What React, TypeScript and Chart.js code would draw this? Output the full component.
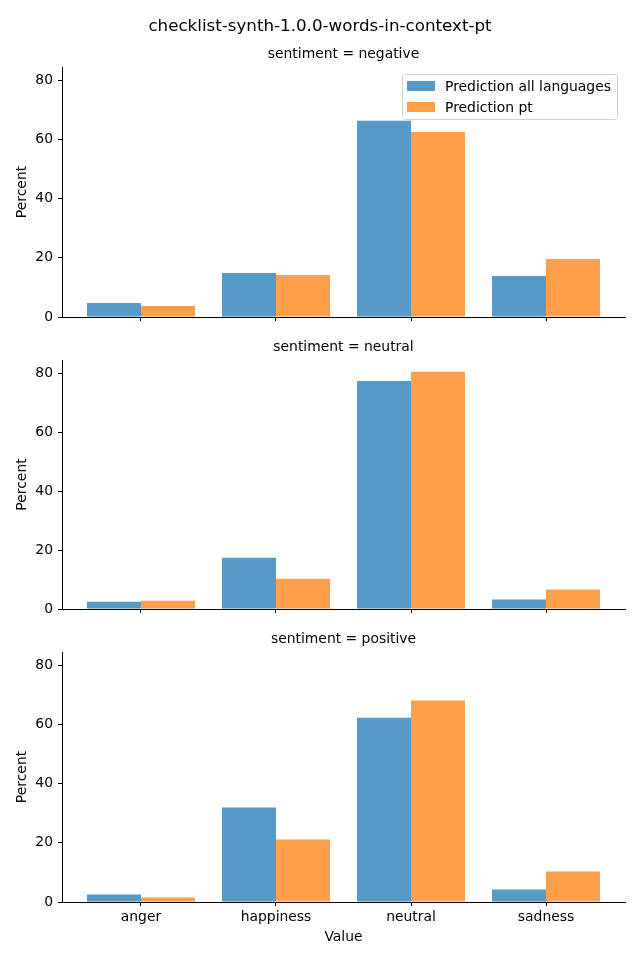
import React, { useEffect, useRef } from "react";
import { Chart, registerables } from "chart.js";

Chart.register(...registerables);

const mainTitle = "checklist-synth-1.0.0-words-in-context-pt";
const categories = ["anger", "happiness", "neutral", "sadness"];
const seriesLabels = ["Prediction all languages", "Prediction pt"];
const panelTitles = ["sentiment = negative", "sentiment = neutral", "sentiment = positive"];
const negativeAll = [4.7, 14.9, 66.3, 13.9];
const negativePt = [3.7, 14.2, 62.5, 19.6];
const neutralAll = [2.5, 17.4, 77.4, 3.2];
const neutralPt = [2.8, 10.3, 80.5, 6.6];
const positiveAll = [2.5, 31.9, 62.3, 4.2];
const positivePt = [1.5, 21.1, 68.1, 10.3];
const yTickValues = [0, 20, 40, 60, 80];
const yLabel = "Percent";
const xLabel = "Value";

const FONT = "'DejaVu Sans', sans-serif";
const BLUE = "rgba(31,119,180,0.75)";
const ORANGE = "rgba(255,127,14,0.75)";

type PanelProps = {
  top: number;
  height: number;
  padTop: number;
  xAxisHeight: number;
  title: string;
  all: number[];
  pt: number[];
  showLabels: boolean;
  showLegend: boolean;
  showMainTitle: boolean;
};

function Panel(p: PanelProps) {
  const ref = useRef<HTMLCanvasElement | null>(null);
  useEffect(() => {
    if (!ref.current) return;
    const textPlugin = {
      id: "texts",
      afterDraw(chart: any) {
        const ctx = chart.ctx;
        const a = chart.chartArea;
        ctx.save();
        ctx.fillStyle = "#000";
        ctx.textAlign = "center";
        ctx.textBaseline = "middle";
        if (p.showMainTitle) {
          ctx.font = `16.7px ${FONT}`;
          ctx.fillText(mainTitle, 320, 27);
        }
        ctx.font = `13.9px ${FONT}`;
        ctx.fillText(p.title, (a.left + a.right) / 2, a.top - 13);
        ctx.save();
        ctx.translate(22, (a.top + a.bottom) / 2);
        ctx.rotate(-Math.PI / 2);
        ctx.fillText(yLabel, 0, 0);
        ctx.restore();
        if (p.showLabels) {
          ctx.fillText(xLabel, (a.left + a.right) / 2, a.bottom + 35);
        }
        if (p.showLegend) {
          const bx = 402.5, by = 74.5, bw = 215, bh = 45, r = 3;
          ctx.beginPath();
          ctx.moveTo(bx + r, by);
          ctx.lineTo(bx + bw - r, by);
          ctx.quadraticCurveTo(bx + bw, by, bx + bw, by + r);
          ctx.lineTo(bx + bw, by + bh - r);
          ctx.quadraticCurveTo(bx + bw, by + bh, bx + bw - r, by + bh);
          ctx.lineTo(bx + r, by + bh);
          ctx.quadraticCurveTo(bx, by + bh, bx, by + bh - r);
          ctx.lineTo(bx, by + r);
          ctx.quadraticCurveTo(bx, by, bx + r, by);
          ctx.closePath();
          ctx.fillStyle = "rgba(255,255,255,0.8)";
          ctx.fill();
          ctx.strokeStyle = "#d0d0d0";
          ctx.lineWidth = 1;
          ctx.stroke();
          const colors = [BLUE, ORANGE];
          seriesLabels.forEach((lab, i) => {
            const y = 81 + i * 21;
            ctx.fillStyle = colors[i];
            ctx.fillRect(407, y, 28, 10);
            ctx.fillStyle = "#000";
            ctx.textAlign = "left";
            ctx.fillText(lab, 445, y + 6);
          });
        }
        ctx.restore();
      },
    };
    const chart = new Chart(ref.current, {
      type: "bar",
      data: {
        datasets: [
          {
            label: seriesLabels[0],
            data: categories.map((_, i) => ({ x: i, y: p.all[i] })),
            backgroundColor: BLUE,
            borderWidth: 0,
          },
          {
            label: seriesLabels[1],
            data: categories.map((_, i) => ({ x: i, y: p.pt[i] })),
            backgroundColor: ORANGE,
            borderWidth: 0,
          },
        ],
      },
      options: {
        animation: false,
        responsive: false,
        devicePixelRatio: 1,
        layout: { padding: { top: p.padTop, right: 15, left: 0, bottom: 0 } },
        datasets: { bar: { categoryPercentage: 0.8, barPercentage: 1 } },
        plugins: {
          legend: { display: false },
          title: { display: false },
          tooltip: { enabled: false },
        },
        scales: {
          x: {
            type: "linear",
            min: -0.585,
            max: 3.585,
            offset: false,
            afterBuildTicks: (s: any) => {
              s.ticks = categories.map((_, i) => ({ value: i }));
            },
            afterFit: (s: any) => {
              s.height = p.xAxisHeight;
              s.paddingLeft = 0;
              s.paddingRight = 0;
            },
            ticks: {
              color: "#000",
              font: { family: FONT, size: 13.9 },
              padding: 3,
              maxRotation: 0,
              autoSkip: false,
              callback: (v: any) => (p.showLabels ? categories[Math.round(Number(v))] : ""),
            },
            grid: {
              display: true,
              offset: false,
              drawOnChartArea: false,
              drawTicks: true,
              tickLength: 4,
              color: "#000",
            },
            border: { display: true, color: "#000", width: 1 },
          },
          y: {
            min: 0,
            max: 84.5,
            afterBuildTicks: (s: any) => {
              s.ticks = yTickValues.map((v) => ({ value: v }));
            },
            afterFit: (s: any) => {
              s.width = 62;
              s.paddingTop = 0;
              s.paddingBottom = 0;
            },
            ticks: {
              color: "#000",
              font: { family: FONT, size: 13.9 },
              padding: 5,
            },
            grid: {
              display: true,
              offset: false,
              drawOnChartArea: false,
              drawTicks: true,
              tickLength: 4,
              color: "#000",
            },
            border: { display: true, color: "#000", width: 1 },
          },
        },
      },
      plugins: [textPlugin],
    } as any);
    return () => chart.destroy();
  }, []);
  return (
    <canvas
      ref={ref}
      width={640}
      height={p.height}
      style={{ position: "absolute", left: 0, top: p.top, width: 640, height: p.height }}
    />
  );
}

export default function App() {
  return (
    <div style={{ position: "absolute", left: 0, top: 0, width: 640, height: 960, background: "#fff" }}>
      <Panel top={0} height={330} padTop={67} xAxisHeight={13} title={panelTitles[0]} all={negativeAll} pt={negativePt} showLabels={false} showLegend={true} showMainTitle={true} />
      <Panel top={330} height={290} padTop={30} xAxisHeight={11} title={panelTitles[1]} all={neutralAll} pt={neutralPt} showLabels={false} showLegend={false} showMainTitle={false} />
      <Panel top={620} height={340} padTop={32} xAxisHeight={58} title={panelTitles[2]} all={positiveAll} pt={positivePt} showLabels={true} showLegend={false} showMainTitle={false} />
    </div>
  );
}
